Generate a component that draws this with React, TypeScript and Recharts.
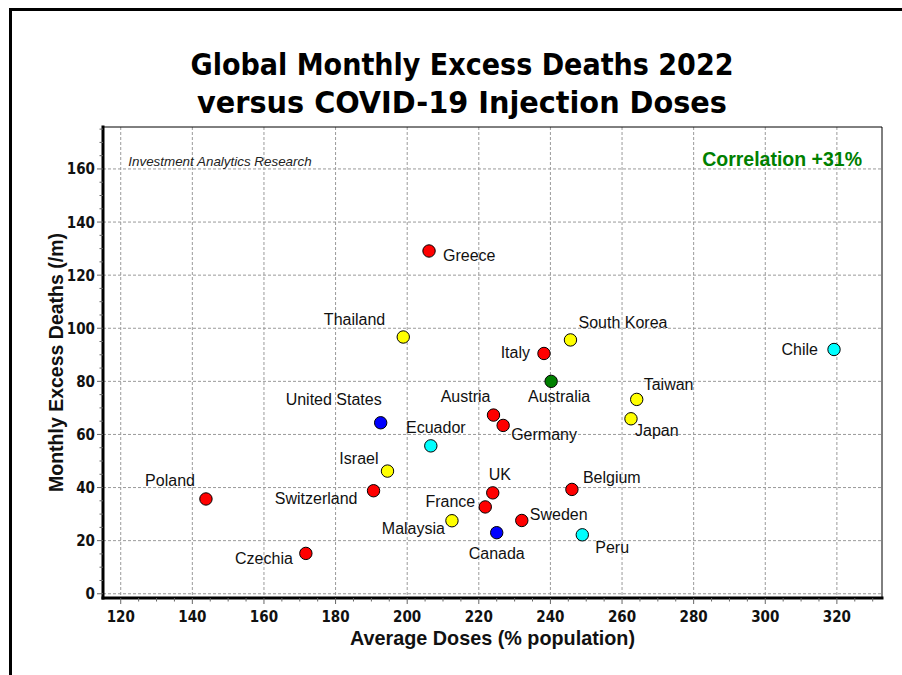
import React from 'react';
import { ScatterChart, Scatter, XAxis, YAxis, CartesianGrid, ReferenceArea, Label } from 'recharts';

// values
const countries = [
  'Greece', 'Thailand', 'Italy', 'South Korea', 'Chile', 'Australia', 'Taiwan', 'Japan',
  'United States', 'Austria', 'Germany', 'Ecuador', 'Israel', 'Switzerland', 'UK', 'Belgium',
  'France', 'Malaysia', 'Sweden', 'Canada', 'Peru', 'Poland', 'Czechia',
];
const avgDoses = [
  206.1, 198.9, 238.2, 245.6, 319.2, 240.2, 264.1, 262.5,
  192.6, 224.1, 226.8, 206.6, 194.5, 190.6, 223.9, 246.0,
  221.8, 212.5, 232.0, 225.0, 248.9, 143.8, 171.7,
];
const excessDeaths = [
  129.1, 96.7, 90.5, 95.6, 92.0, 80.0, 73.2, 65.9,
  64.4, 67.3, 63.4, 55.7, 46.2, 38.8, 38.0, 39.3,
  32.7, 27.5, 27.6, 23.0, 22.2, 35.7, 15.2,
];
const regions = [
  'Europe', 'Asia', 'Europe', 'Asia', 'South America', 'Oceania', 'Asia', 'Asia',
  'North America', 'Europe', 'Europe', 'South America', 'Asia', 'Europe', 'Europe', 'Europe',
  'Europe', 'Asia', 'Europe', 'North America', 'South America', 'Europe', 'Europe',
];

const xMajorTicks = [120, 140, 160, 180, 200, 220, 240, 260, 280, 300, 320];
const yMajorTicks = [0, 20, 40, 60, 80, 100, 120, 140, 160];
const xMinorTicks = Array.from({ length: 43 }, (_, i) => 120 + i * 5);
const yMinorTicks = Array.from({ length: 36 }, (_, i) => i * 5);

const X_DOMAIN: [number, number] = [115.05, 332.6];
const Y_DOMAIN: [number, number] = [-1.6, 175.8];

const regionColors: Record<string, string> = {
  Europe: '#ff0000',
  Asia: '#ffff00',
  'North America': '#0000ff',
  'South America': '#00ffff',
  Oceania: '#008000',
};

// hand placed labels, like the original
const labelPos: Record<string, [string, number, number]> = {
  Greece: ['start', 14, 10],
  Thailand: ['end', -18, -12],
  Italy: ['end', -14, 5],
  'South Korea': ['start', 8, -12],
  Chile: ['end', -16, 6],
  Australia: ['middle', 8, 21],
  Taiwan: ['start', 7, -9],
  Japan: ['start', 4, 17],
  'United States': ['end', 1, -18],
  Austria: ['end', -3, -13],
  Germany: ['start', 8, 15],
  Ecuador: ['middle', 5, -13],
  Israel: ['end', -9, -7],
  Switzerland: ['end', -16, 13],
  UK: ['start', -4, -13],
  Belgium: ['start', 11, -6],
  France: ['end', -10, 0],
  Malaysia: ['end', -7, 13],
  Sweden: ['start', 8, 0],
  Canada: ['middle', 0, 26],
  Peru: ['start', 13, 18],
  Poland: ['end', -11, -13],
  Czechia: ['end', -13, 11],
};

const data = countries.map((name, i) => ({
  name,
  x: avgDoses[i],
  y: excessDeaths[i],
  region: regions[i],
}));

const ARIAL = 'Arial, "Liberation Sans", sans-serif';
const TICK_FONT = '"DejaVu Sans Condensed", "DejaVu Sans", sans-serif';

const XTick = (props: any) => {
  const { x, y, payload } = props;
  const major = xMajorTicks.includes(payload.value);
  return (
    <g>
      <line x1={x} x2={x} y1={y} y2={y + (major ? 6 : 3.5)} stroke="#666" />
      {major && (
        <text x={x} y={y + 24} textAnchor="middle" fontFamily={TICK_FONT} fontStretch="condensed"
          fontWeight="bold" fontSize={15} fill="#111">{payload.value}</text>
      )}
    </g>
  );
};

const YTick = (props: any) => {
  const { x, y, payload } = props;
  const major = yMajorTicks.includes(payload.value);
  return (
    <g>
      <line x1={x} x2={x - (major ? 6 : 3.5)} y1={y} y2={y} stroke="#666" />
      {major && (
        <text x={x - 8} y={y + 5.5} textAnchor="end" fontFamily={TICK_FONT} fontStretch="condensed"
          fontWeight="bold" fontSize={15} fill="#111">{payload.value}</text>
      )}
    </g>
  );
};

const renderDot = (props: any) => {
  const { cx, cy, payload } = props;
  return <circle cx={cx} cy={cy} r={6.2} fill={regionColors[payload.region]} stroke="#000" strokeWidth={1} />;
};

const renderName = (props: any) => {
  const { cx, cy, payload } = props;
  const [anchor, dx, dy] = labelPos[payload.name] || ['start', 8, 0];
  return (
    <text x={cx + dx} y={cy + dy} textAnchor={anchor as any} fontFamily={ARIAL} fontSize={16} fill="#111">
      {payload.name}
    </text>
  );
};

export default function App() {
  return (
    <div style={{ position: 'absolute', left: 0, top: 0, width: 902, height: 675, background: '#fff', overflow: 'hidden' }}>
      <div style={{ position: 'absolute', left: 9, top: 8, width: 1000, height: 800, borderTop: '3px solid #000', borderLeft: '3px solid #000' }} />
      <div style={{ position: 'absolute', left: 0, top: 0 }}>
        <ScatterChart width={902} height={675} margin={{ top: 127, right: 20, bottom: 27, left: 43 }}>
          <CartesianGrid
            stroke="#9a9a9a"
            strokeDasharray="3 2"
            verticalValues={xMajorTicks}
            horizontalValues={yMajorTicks}
          />
          <ReferenceArea x1={X_DOMAIN[0]} x2={X_DOMAIN[1]} y1={Y_DOMAIN[0]} y2={Y_DOMAIN[1]}
            fill="none" stroke="#000" strokeWidth={1} ifOverflow="visible" />
          <XAxis
            type="number"
            dataKey="x"
            domain={X_DOMAIN}
            allowDataOverflow
            ticks={xMinorTicks}
            interval={0}
            tickSize={0}
            tickMargin={0}
            height={50}
            tick={<XTick />}
            axisLine={{ stroke: '#000', strokeWidth: 3, strokeLinecap: 'square' }}
          >
            <Label
              content={({ viewBox }: any) => (
                <text x={viewBox.x + viewBox.width / 2} y={viewBox.y + 47} textAnchor="middle"
                  fontFamily={ARIAL} fontWeight="bold" fontSize={19.8} fill="#111">
                  Average Doses (% population)
                </text>
              )}
            />
          </XAxis>
          <YAxis
            type="number"
            dataKey="y"
            domain={Y_DOMAIN}
            allowDataOverflow
            ticks={yMinorTicks}
            interval={0}
            tickSize={0}
            tickMargin={0}
            width={60}
            tick={<YTick />}
            axisLine={{ stroke: '#000', strokeWidth: 3, strokeLinecap: 'square' }}
          >
            <Label
              content={({ viewBox }: any) => {
                const cx = viewBox.x + viewBox.width - 40;
                const cy = viewBox.y + viewBox.height / 2;
                return (
                  <text x={cx} y={cy} transform={`rotate(-90, ${cx}, ${cy})`} textAnchor="middle"
                    fontFamily={ARIAL} fontWeight="bold" fontSize={19.5} fill="#111">
                    Monthly Excess Deaths (/m)
                  </text>
                );
              }}
            />
          </YAxis>
          <Scatter data={data} shape={renderDot} isAnimationActive={false} />
          <Scatter data={data} shape={renderName} isAnimationActive={false} />
        </ScatterChart>
      </div>
      <svg width={902} height={675} style={{ position: 'absolute', left: 0, top: 0, pointerEvents: 'none' }}>
        <text x={462} y={75} textAnchor="middle" fontFamily={TICK_FONT} fontStretch="condensed"
          fontWeight="bold" fontSize={30} fill="#000" textLength={543} lengthAdjust="spacingAndGlyphs">
          Global Monthly Excess Deaths 2022
        </text>
        <text x={462} y={113} textAnchor="middle" fontFamily={TICK_FONT} fontStretch="condensed"
          fontWeight="bold" fontSize={30} fill="#000" textLength={530} lengthAdjust="spacingAndGlyphs">
          versus COVID-19 Injection Doses
        </text>
        <text x={128.3} y={165.5} fontFamily={ARIAL} fontStyle="italic" fontSize={13.4} fill="#222">
          Investment Analytics Research
        </text>
        <text x={862} y={165.7} textAnchor="end" fontFamily={ARIAL} fontWeight="bold" fontSize={19.5} fill="#008000">
          Correlation +31%
        </text>
      </svg>
    </div>
  );
}
